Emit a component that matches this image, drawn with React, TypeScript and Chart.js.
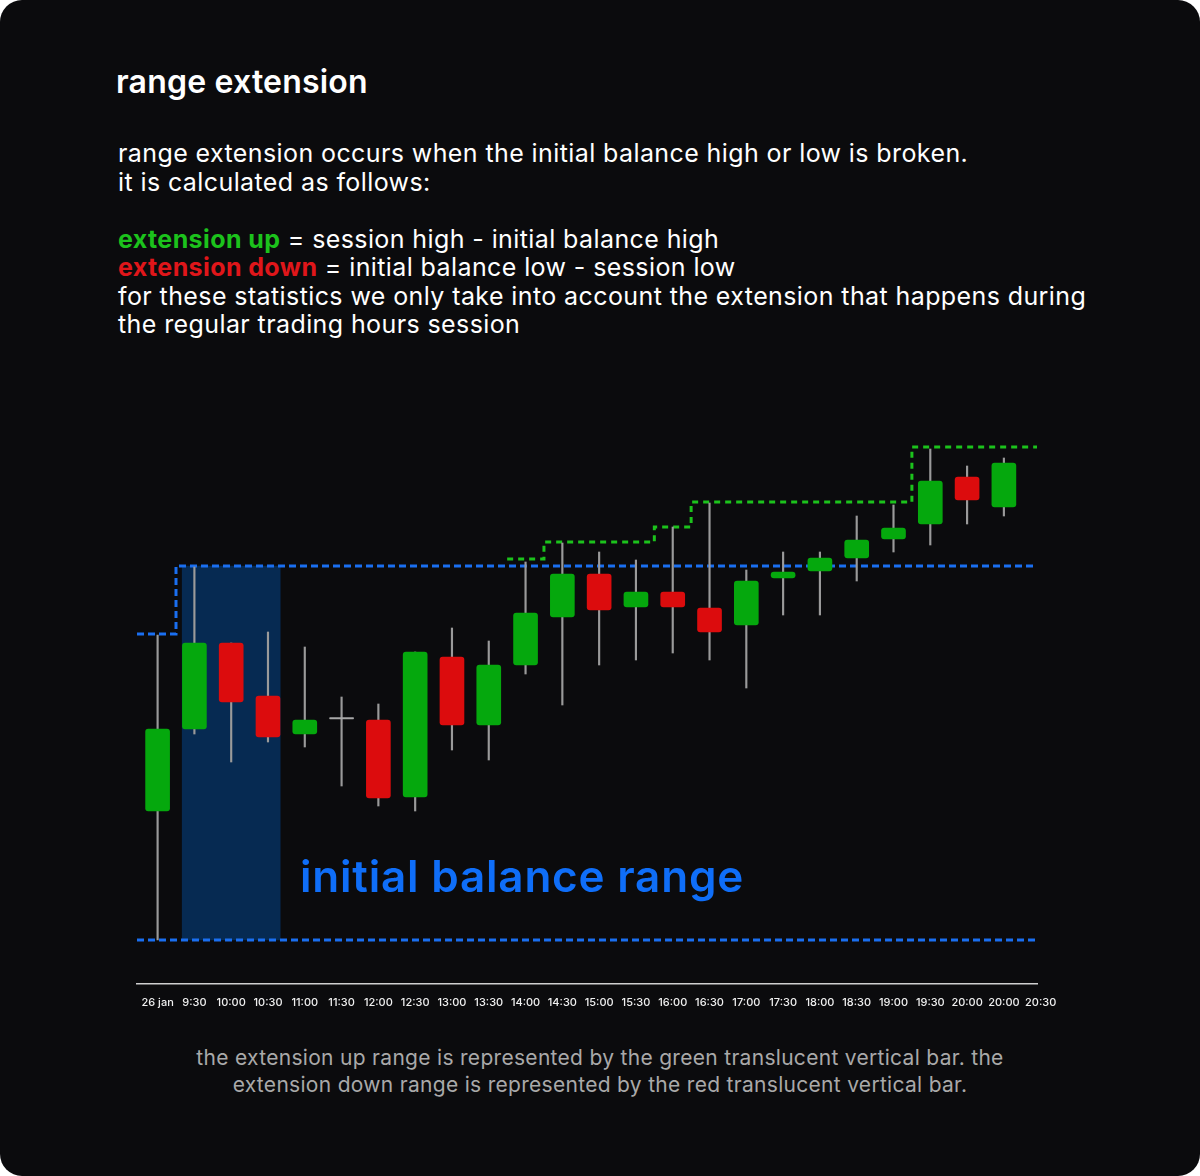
import React, { useEffect, useRef } from "react";
import { Chart, registerables } from "chart.js";

Chart.register(...registerables);

// ---------- data ----------
const timeLabels = [
  "26 jan", "9:30", "10:00", "10:30", "11:00", "11:30", "12:00", "12:30", "13:00",
  "13:30", "14:00", "14:30", "15:00", "15:30", "16:00", "16:30", "17:00", "17:30",
  "18:00", "18:30", "19:00", "19:30", "20:00", "20:00", "20:30",
];

const opens = [
  4094.5, 4135.5, 4178.5, 4152, 4133, 4140.5, 4140, 4101.5, 4171.5, 4137.5, 4167.5, 4191.5,
  4213, 4196.5, 4204, 4196, 4187.5, 4211, 4214.5, 4221, 4230.5, 4238, 4261.5, 4246.5,
];
const highs = [
  4182.5, 4216.5, 4178.5, 4184, 4176.5, 4151.5, 4148, 4174, 4186, 4179.5, 4219, 4228.5,
  4224, 4220, 4236.5, 4248.5, 4215, 4224, 4224, 4242, 4247.5, 4275.5, 4267, 4271,
];
const lows = [
  4030, 4133, 4119, 4129, 4126.5, 4107, 4097, 4094.5, 4125, 4120, 4163, 4147.5,
  4167.5, 4170, 4173.5, 4170, 4156, 4192.5, 4192.5, 4209.5, 4224, 4227.5, 4238, 4242,
];
const closes = [
  4135.5, 4178.5, 4149, 4131.5, 4140, 4140.5, 4101, 4174, 4137.5, 4167.5, 4193.5, 4213,
  4195, 4204, 4196.5, 4184, 4209.5, 4214, 4221, 4230, 4236, 4259.5, 4250, 4268.5,
];

const X_MIN = -0.56;
const X_MAX = 23.9;
const Y_MIN = 4008;
const Y_MAX = 4290;

// initial balance (high line steps up after the first bar)
const ibHighX = [X_MIN, 0.5, X_MAX];
const ibHighY = [4183, 4217, 4217];
const ibLowX = [X_MIN, X_MAX];
const ibLowY = [4030, 4030];
const ibPeriodCenter = 2;
const ibRange = [4030, 4217];

// running extension-up (session high above IB high)
const extUpX = [9.5, 10.5, 13.5, 14.5, 20.5, X_MAX];
const extUpY = [4220.5, 4229, 4236.5, 4249, 4276.5, 4276.5];

// ---------- styles ----------
const GREEN = "#05a80d";
const RED = "#dc0c0d";
const DOJI = "#a8a8a8";
const WICK = "#9a9a9a";
const BLUE_DASH = "#1a6ff0";
const GREEN_DASH = "#1cc21c";
const IB_FILL = "#062a52";
const FONT = "Inter, 'Noto Sans', sans-serif";

function CandleChart() {
  const ref = useRef<HTMLCanvasElement | null>(null);

  useEffect(() => {
    if (!ref.current) return;
    const bodyColors = opens.map((o, i) =>
      closes[i] > o ? GREEN : closes[i] < o ? RED : DOJI
    );
    const chart = new Chart(ref.current, {
      type: "bar",
      data: {
        datasets: [
          {
            type: "bar",
            label: "initial balance",
            data: [{ x: ibPeriodCenter, y: ibRange }],
            backgroundColor: IB_FILL,
            barThickness: 98,
            grouped: false,
            order: 10,
          } as any,
          {
            type: "line",
            label: "ib high",
            data: ibHighX.map((x, i) => ({ x, y: ibHighY[i] })),
            borderColor: BLUE_DASH,
            borderWidth: 3,
            borderDash: [7, 4],
            stepped: "before",
            pointRadius: 0,
            fill: false,
            order: 5,
          } as any,
          {
            type: "line",
            label: "ib low",
            data: ibLowX.map((x, i) => ({ x, y: ibLowY[i] })),
            borderColor: BLUE_DASH,
            borderWidth: 3,
            borderDash: [7, 4],
            pointRadius: 0,
            fill: false,
            order: 5,
          } as any,
          {
            type: "line",
            label: "extension up",
            data: extUpX.map((x, i) => ({ x, y: extUpY[i] })),
            borderColor: GREEN_DASH,
            borderWidth: 3,
            borderDash: [6, 5],
            stepped: "before",
            pointRadius: 0,
            fill: false,
            order: 5,
          } as any,
          {
            type: "bar",
            label: "wicks",
            data: highs.map((h, i) => ({ x: i, y: [lows[i], h] })),
            backgroundColor: WICK,
            barThickness: 1.5,
            grouped: false,
            order: 2,
          } as any,
          {
            type: "bar",
            label: "bodies",
            data: opens.map((o, i) => ({ x: i, y: [o, closes[i]] })),
            backgroundColor: bodyColors,
            barThickness: 24,
            borderRadius: 3,
            borderSkipped: false,
            minBarLength: 1.5,
            grouped: false,
            order: 1,
          } as any,
        ],
      },
      options: {
        animation: false,
        responsive: false,
        layout: { padding: { left: 137, right: 163, top: 20, bottom: 19 } },
        plugins: { legend: { display: false }, tooltip: { enabled: false } },
        scales: {
          x: {
            type: "linear",
            offset: false,
            min: X_MIN,
            max: X_MAX,
            grid: { display: false, drawTicks: false },
            border: { display: true, color: "#d0d0d0", width: 1.5 },
            afterBuildTicks: (scale: any) => {
              scale.ticks = timeLabels.map((_, i) => ({ value: i }));
            },
            afterFit: (scale: any) => {
              scale.height = 37;
            },
            ticks: {
              color: "#f0f0f0",
              autoSkip: false,
              maxRotation: 0,
              padding: 12,
              font: { family: FONT, size: 11, weight: "500" },
              callback: (v: any) => timeLabels[Math.round(Number(v))] ?? "",
            },
          },
          y: { type: "linear", display: false, min: Y_MIN, max: Y_MAX },
        },
      } as any,
    });
    return () => chart.destroy();
  }, []);

  return (
    <canvas
      ref={ref}
      width={1200}
      height={640}
      style={{ position: "absolute", left: 0, top: 400, width: 1200, height: 640 }}
    />
  );
}

export default function App() {
  return (
    <div
      style={{
        position: "absolute",
        left: 0,
        top: 0,
        width: 1200,
        height: 1176,
        background: "#0b0b0d",
        borderRadius: 22,
        overflow: "hidden",
        fontFamily: FONT,
        color: "#ffffff",
      }}
    >
      <div
        style={{
          position: "absolute",
          left: 116,
          top: 63,
          fontSize: 32,
          fontWeight: 600,
          letterSpacing: 0.2,
          lineHeight: "38px",
          whiteSpace: "nowrap",
        }}
      >
        range extension
      </div>
      <div
        style={{
          position: "absolute",
          left: 118,
          top: 139,
          fontSize: 25,
          fontWeight: 400,
          letterSpacing: 0.4,
          lineHeight: "28.5px",
          whiteSpace: "nowrap",
        }}
      >
        <div>range extension occurs when the initial balance high or low is broken.</div>
        <div>it is calculated as follows:</div>
        <div>&nbsp;</div>
        <div>
          <span style={{ color: GREEN_DASH, fontWeight: 700 }}>extension up</span> = session
          high - initial balance high
        </div>
        <div>
          <span style={{ color: "#e0161a", fontWeight: 700 }}>extension down</span> = initial
          balance low - session low
        </div>
        <div>
          for these statistics we only take into account the extension that happens during
        </div>
        <div>the regular trading hours session</div>
      </div>
      <CandleChart />
      <div
        style={{
          position: "absolute",
          left: 300,
          top: 850,
          fontSize: 44,
          fontWeight: 600,
          letterSpacing: 0.8,
          lineHeight: "52px",
          color: "#0f6ef8",
          whiteSpace: "nowrap",
        }}
      >
        initial balance range
      </div>
      <div
        style={{
          position: "absolute",
          left: 0,
          top: 1044,
          width: 1200,
          textAlign: "center",
          fontSize: 21,
          letterSpacing: 0.3,
          lineHeight: "27px",
          color: "#a9a9a9",
        }}
      >
        <div>the extension up range is represented by the green translucent vertical bar. the</div>
        <div>extension down range is represented by the red translucent vertical bar.</div>
      </div>
    </div>
  );
}
